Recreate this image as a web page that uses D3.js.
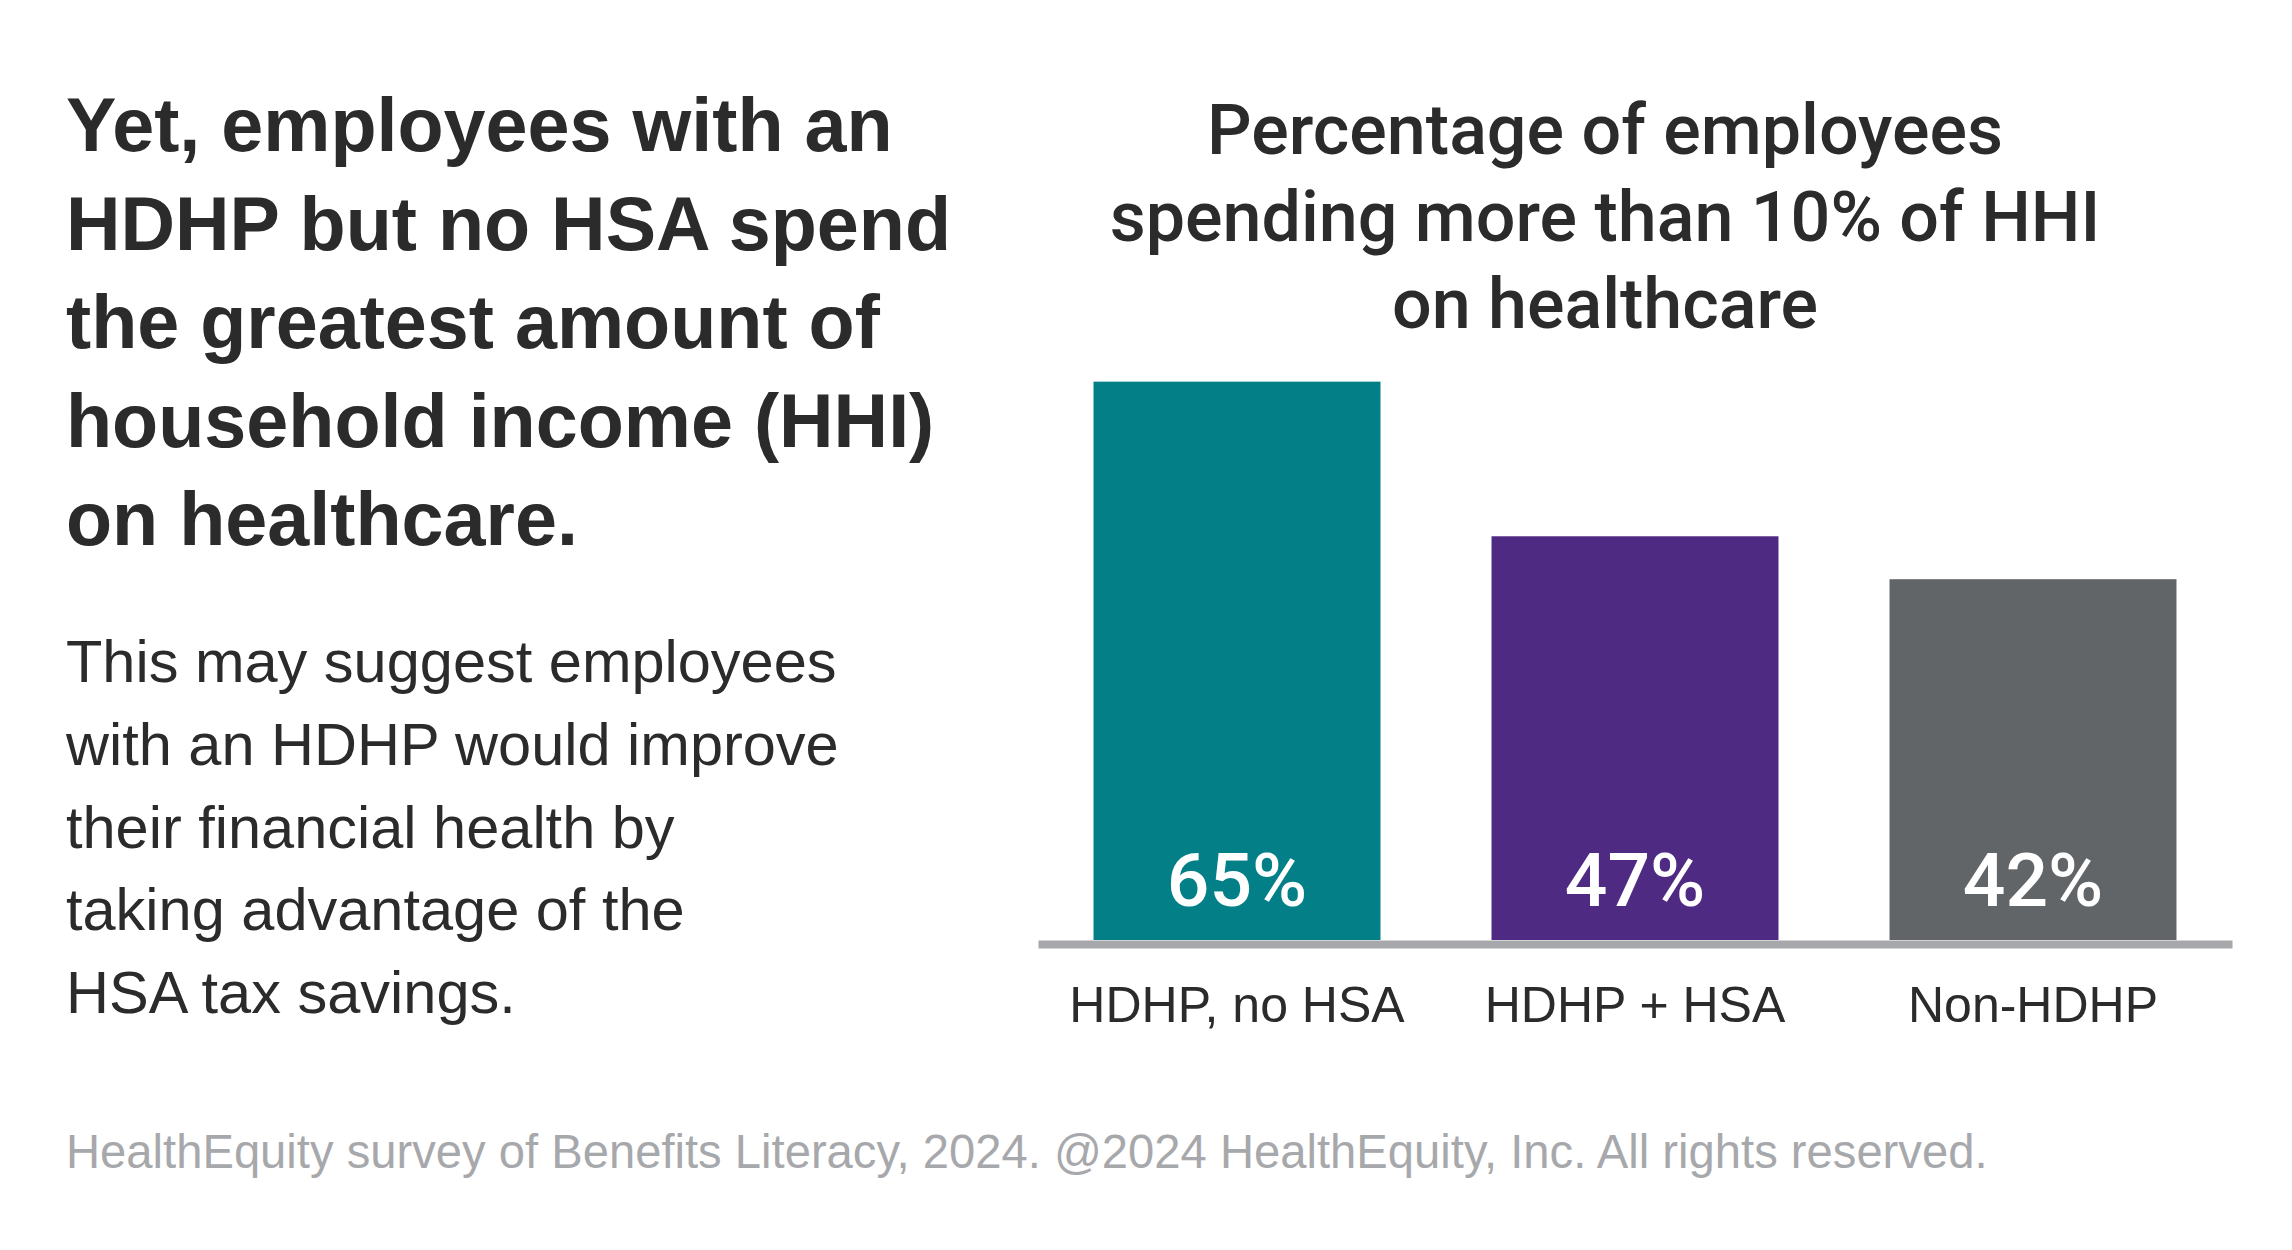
<!DOCTYPE html>
<html>
<head>
<meta charset="utf-8">
<script src="https://cdn.jsdelivr.net/npm/d3@7"></script>
<style>
  html, body { margin: 0; padding: 0; background: #fff; }
  svg { display: block; }
</style>
</head>
<body>
<div id="chart"></div>
<script>
// data
const categories = ["HDHP, no HSA", "HDHP + HSA", "Non-HDHP"];
const values = [65, 47, 42];
const barColors = ["#027f87", "#4f2a82", "#626568"];

const headlineLines = ["Yet, employees with an", "HDHP but no HSA spend", "the greatest amount of", "household income (HHI)", "on healthcare."];
const bodyLines = ["This may suggest employees", "with an HDHP would improve", "their financial health by", "taking advantage of the", "HSA tax savings."];
const titleLines = ["Percentage of employees", "spending more than 10% of HHI", "on healthcare"];
const footnote = "HealthEquity survey of Benefits Literacy, 2024. @2024 HealthEquity, Inc. All rights reserved.";

const width = 2292, height = 1250;
const plot = {left: 1038, right: 2232, top: 81, bottom: 940};
const font = "'Liberation Sans', Arial, Helvetica, sans-serif";
const dark = "#2b2b2b";

const svg = d3.select('#chart')
    .append('svg')
        .attr('width', width)
        .attr('height', height)
        .attr('viewBox', `0 0 ${width} ${height}`);

// left text block
svg.append('g')
    .selectAll('text')
    .data(headlineLines)
    .join('text')
        .attr('x', 66)
        .attr('y', (d, i) => 151 + i * 98.5)
        .attr('font-family', font)
        .attr('font-weight', 'bold')
        .attr('font-size', 75.5)
        .attr('fill', dark)
        .text(d => d);

svg.append('g')
    .selectAll('text')
    .data(bodyLines)
    .join('text')
        .attr('x', 66)
        .attr('y', (d, i) => 682 + i * 82.8)
        .attr('font-family', font)
        .attr('font-size', 59.5)
        .attr('fill', dark)
        .text(d => d);

// chart title
svg.append('g')
    .selectAll('text')
    .data(titleLines)
    .join('text')
        .attr('x', 1605)
        .attr('y', (d, i) => 154 + i * 87)
        .attr('text-anchor', 'middle')
        .attr('font-family', "Roboto, " + font)
        .attr('font-weight', 500)
        .attr('font-size', 70)
        .attr('fill', dark)
        .text(d => d);

// scales
const xScale = d3.scaleBand()
    .domain(categories)
    .range([plot.left, plot.right])
    .paddingInner(0.279)
    .paddingOuter(0.1395);

const yScale = d3.scaleLinear()
    .domain([0, 100])
    .range([plot.bottom, plot.top]);

const data = categories.map((c, i) => ({cat: c, value: values[i], color: barColors[i]}));

svg.selectAll('rect.bar')
    .data(data)
    .join('rect')
        .attr('class', 'bar')
        .attr('x', d => xScale(d.cat))
        .attr('y', d => yScale(d.value))
        .attr('width', xScale.bandwidth())
        .attr('height', d => yScale(0) - yScale(d.value))
        .attr('fill', d => d.color);

// value labels inside bars
svg.selectAll('text.val')
    .data(data)
    .join('text')
        .attr('class', 'val')
        .attr('x', d => xScale(d.cat) + xScale.bandwidth() / 2)
        .attr('y', yScale(0) - 34)
        .attr('text-anchor', 'middle')
        .attr('font-family', "Roboto, " + font)
        .attr('font-weight', 500)
        .attr('font-size', 75)
        .attr('fill', '#fff')
        .text(d => d.value + '%');

// baseline axis
const xAxis = d3.axisBottom(xScale).tickSize(0).tickPadding(0);
const axisG = svg.append('g')
    .attr('transform', `translate(0, ${plot.bottom + 4})`)
    .call(xAxis);
axisG.select('.domain')
    .attr('stroke', '#a7a8ab')
    .attr('stroke-width', 8);
axisG.selectAll('.tick text')
    .attr('y', 78)
    .attr('dy', 0)
    .attr('font-family', font)
    .attr('font-size', 50)
    .attr('fill', dark);

// footnote
svg.append('text')
    .attr('x', 66)
    .attr('y', 1168)
    .attr('font-family', font)
    .attr('font-size', 47.2)
    .attr('fill', '#a7a8ab')
    .text(footnote);
</script>
</body>
</html>
